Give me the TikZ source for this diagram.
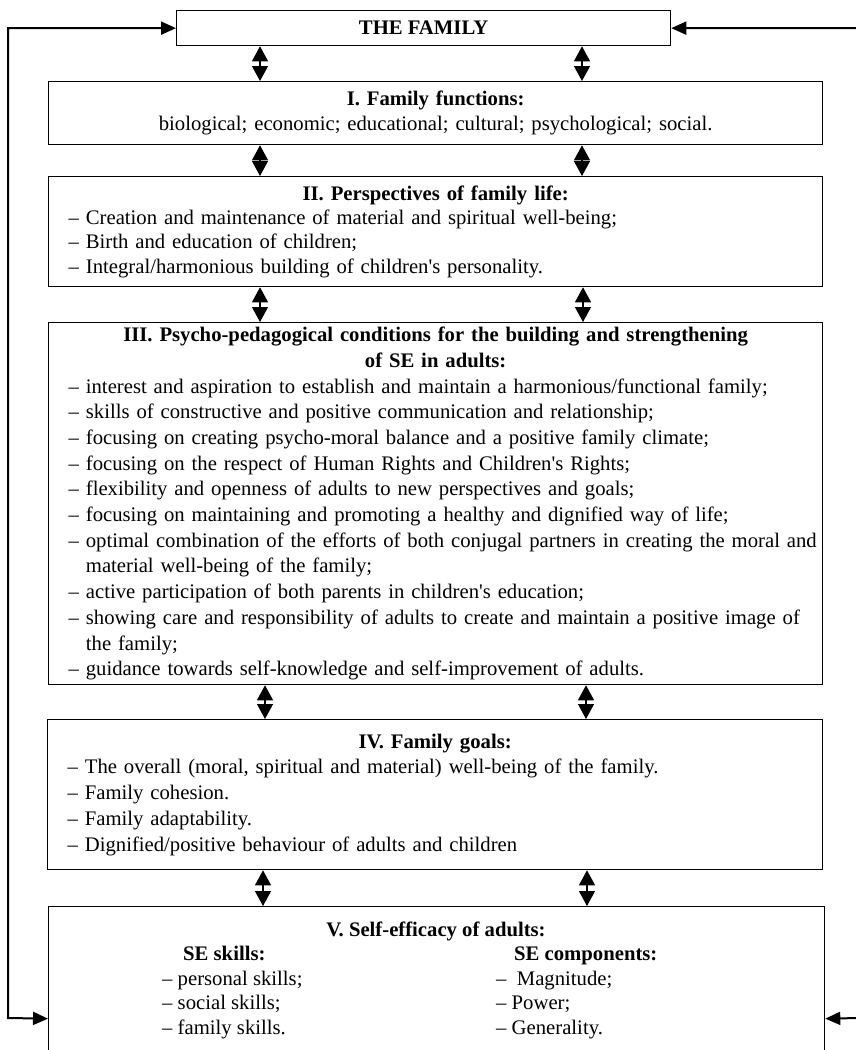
\documentclass[tikz,border=0pt]{standalone}
\usepackage{fontspec}
\setmainfont{Liberation Serif}[Ligatures=TeXOff]
\usetikzlibrary{arrows.meta}
\setlength{\parindent}{0pt}
\newcommand{\iline}[1]{\leavevmode\rlap{#1}\par}
\newcommand{\ttl}[1]{{\centering\bfseries #1\par}}
\begin{document}
\begin{tikzpicture}[x=1pt,y=-1pt,
  box/.style={draw, line width=1.3pt, anchor=north west, inner xsep=20pt, inner ysep=0pt,
              text width=734pt},
  fs/.style={font=\fontsize{20.7}{#1}\selectfont},
  txt/.style={inner sep=0pt, font=\fontsize{20.7}{24.5}\selectfont},
  dbl/.style={line width=1.3pt, {Triangle[width=16pt,length=15pt]}-{Triangle[width=16pt,length=15pt]}},
  side/.style={line width=2pt, line join=miter, {Triangle[width=13pt,length=15pt]}-{Triangle[width=13pt,length=15pt]}}]
\useasboundingbox (0,0) rectangle (856,1050);
\clip (0,0) rectangle (856,1050);

\node[draw, line width=1.3pt, anchor=north west, minimum width=494pt, minimum height=35pt,
      inner sep=0pt, font=\bfseries\fontsize{20.7}{24}\selectfont] (b0) at (176,10) {THE FAMILY};

\node[box, fs=24.5, align=center, minimum height=63pt] (b1) at (48,81)
  {\textbf{I. Family functions:}\\ biological; economic; educational; cultural; psychological; social.};

\node[box, fs=24.4, minimum height=110pt] (b2) at (48,176) {%
  \ttl{II. Perspectives of family life:}
  \iline{– Creation and maintenance of material and spiritual well-being;}
  \iline{– Birth and education of children;}
  \iline{– Integral/harmonious building of children's personality.}};

\node[box, fs=25.7, minimum height=362pt] (b3) at (48,322) {%
  \ttl{III. Psycho-pedagogical conditions for the building and strengthening\\ of SE in adults:}
  \iline{– interest and aspiration to establish and maintain a harmonious/functional family;}
  \iline{– skills of constructive and positive communication and relationship;}
  \iline{– focusing on creating psycho-moral balance and a positive family climate;}
  \iline{– focusing on the respect of Human Rights and Children's Rights;}
  \iline{– flexibility and openness of adults to new perspectives and goals;}
  \iline{– focusing on maintaining and promoting a healthy and dignified way of life;}
  \iline{– optimal combination of the efforts of both conjugal partners in creating the moral and}
  \iline{\phantom{– }material well-being of the family;}
  \iline{– active participation of both parents in children's education;}
  \iline{– showing care and responsibility of adults to create and maintain a positive image of}
  \iline{\phantom{– }the family;}
  \iline{– guidance towards self-knowledge and self-improvement of adults.}};

\node[box, fs=25.7, minimum height=150pt, text width=735pt] (b4) at (47,719) {%
  \ttl{IV. Family goals:}
  \iline{– The overall (moral, spiritual and material) well-being of the family.}
  \iline{– Family cohesion.}
  \iline{– Family adaptability.}
  \iline{– Dignified/positive behaviour of adults and children}};

\node[draw, line width=1.3pt, anchor=north west, minimum width=776pt, minimum height=224pt,
      inner sep=0pt] (b5) at (48,906) {};
\node[txt, anchor=base, font=\bfseries\fontsize{20.7}{24.5}\selectfont] (t5) at (436,936) {V. Self-efficacy of adults:};
\node[txt, anchor=base west, font=\bfseries\fontsize{20.7}{24.5}\selectfont] (s1) at (183,960) {SE skills:};
\node[txt, anchor=base west] (s1a) at (162,985) {– personal skills;};
\node[txt, anchor=base west] (s1b) at (162,1009.5) {– social skills;};
\node[txt, anchor=base west] (s1c) at (162,1034) {– family skills.};
\node[txt, anchor=base west, font=\bfseries\fontsize{20.7}{24.5}\selectfont] (s2) at (514,960) {SE components:};
\node[txt, anchor=base west] (s2a) at (496,985) {–\hspace{0.5em}Magnitude;};
\node[txt, anchor=base west] (s2b) at (496,1009.5) {– Power;};
\node[txt, anchor=base west] (s2c) at (496,1034) {– Generality.};

% double arrows between boxes
\draw[dbl] ([xshift=84pt]b0.south west) -- ([xshift=212pt]b1.north west);
\draw[dbl] ([xshift=406pt]b0.south west) -- ([xshift=534pt]b1.north west);
\draw[dbl] ([xshift=212pt]b1.south west) -- ([xshift=212pt]b2.north west);
\draw[dbl] ([xshift=534pt]b1.south west) -- ([xshift=534pt]b2.north west);
\draw[dbl] ([xshift=212pt]b2.south west) -- ([xshift=212pt]b3.north west);
\draw[dbl] ([xshift=535pt]b2.south west) -- ([xshift=535pt]b3.north west);
\draw[dbl] ([xshift=217pt]b3.south west) -- ([xshift=218pt]b4.north west);
\draw[dbl] ([xshift=538pt]b3.south west) -- ([xshift=539pt]b4.north west);
\draw[dbl] ([xshift=216pt]b4.south west) -- ([xshift=215pt]b5.north west);
\draw[dbl] ([xshift=540pt]b4.south west) -- ([xshift=539pt]b5.north west);

% feedback loops
\coordinate (lc) at (8,1018);
\coordinate (rc) at (860,1018);
\draw[side] (b5.west) -- (lc) |- (b0.west);
\draw[side] (b5.east) -- (rc) |- (b0.east);
\end{tikzpicture}
\end{document}
